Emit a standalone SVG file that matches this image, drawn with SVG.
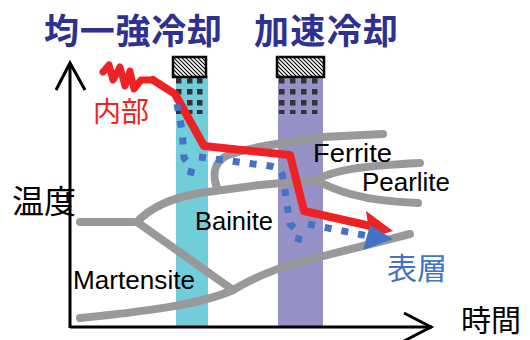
<svg xmlns="http://www.w3.org/2000/svg" width="530" height="340" viewBox="0 0 530 340">
<defs>
<pattern id="hatch" patternUnits="userSpaceOnUse" width="4" height="4">
<rect width="4" height="4" fill="#fff"/>
<path d="M-1,-1 L5,5 M3,-1 L5,1 M-1,3 L1,5" stroke="#000" stroke-width="1.1"/>
</pattern>
</defs>
<style>
.title{font-family:"Noto Sans CJK JP",sans-serif;font-weight:bold;font-size:35px;fill:#2e3192}
.jp{font-family:"Noto Sans CJK JP",sans-serif}
.lat{font-family:"Liberation Sans",Arial,sans-serif;font-size:25px;fill:#000}
.gray{fill:none;stroke:#999;stroke-width:8;stroke-linecap:round;stroke-linejoin:round}
.axis{fill:none;stroke:#000;stroke-width:3}
.dot{fill:#333}
.box{fill:url(#hatch);stroke:#000;stroke-width:2.5}
.red{fill:none;stroke:#ee2224;stroke-linejoin:round;stroke-linecap:round}
.blue{fill:none;stroke:#4472c4;stroke-width:7;stroke-dasharray:7 10}
</style>

<g id="titles">
<text class="title" x="44" y="44" textLength="178">均一強冷却</text>
<text class="title" x="254" y="44" textLength="144">加速冷却</text>
</g>

<g id="bar-uniform">
<rect x="176" y="76" width="32" height="251" fill="#70cdd9"/>
<rect class="box" x="173" y="57" width="33" height="20"/>
<g class="dot">
<rect x="176" y="78" width="5.5" height="5.5"/><rect x="187" y="78" width="5.5" height="5.5"/><rect x="197" y="78" width="5.5" height="5.5"/>
<rect x="176" y="89" width="5.5" height="5.5"/><rect x="187" y="89" width="5.5" height="5.5"/><rect x="197" y="89" width="5.5" height="5.5"/>
<rect x="176" y="100" width="5.5" height="5.5"/><rect x="187" y="100" width="5.5" height="5.5"/><rect x="197" y="100" width="5.5" height="5.5"/>
<rect x="176" y="110" width="5.5" height="4"/><rect x="187" y="110" width="5.5" height="4"/><rect x="197" y="110" width="5.5" height="4"/>
</g>
</g>

<g id="bar-accel">
<rect x="278" y="76" width="45" height="251" fill="#9692c8"/>
<rect class="box" x="277" y="57" width="47" height="20"/>
<g class="dot">
<rect x="279" y="78" width="5.5" height="5.5"/><rect x="290" y="78" width="5.5" height="5.5"/><rect x="301" y="78" width="5.5" height="5.5"/><rect x="312" y="78" width="5.5" height="5.5"/>
<rect x="279" y="89" width="5.5" height="5.5"/><rect x="290" y="89" width="5.5" height="5.5"/><rect x="301" y="89" width="5.5" height="5.5"/><rect x="312" y="89" width="5.5" height="5.5"/>
<rect x="279" y="100" width="5.5" height="5.5"/><rect x="290" y="100" width="5.5" height="5.5"/><rect x="301" y="100" width="5.5" height="5.5"/><rect x="312" y="100" width="5.5" height="5.5"/>
<rect x="279" y="110" width="5.5" height="4"/><rect x="290" y="110" width="5.5" height="4"/><rect x="301" y="110" width="5.5" height="4"/><rect x="312" y="110" width="5.5" height="4"/>
</g>
</g>

<g id="axes">
<path class="axis" d="M70,64 L70,328 M70,327 L432,327"/>
<polyline class="axis" points="56,90 70,63 85,90"/>
<polyline class="axis" points="404,313 431,327 404,341"/>
</g>

<g id="transformation-curves">
<path class="gray" d="M218,190 C212,176 213,162 228,155 C250,147 290,142 323,137 L383,134"/>
<path class="gray" d="M80,222 L137,222 C150,208 170,198 200,193 L260,185 L315,180"/>
<path class="gray" d="M315,180 C335,170 360,166 420,163"/>
<path class="gray" d="M315,180 C335,190 360,201 418,203"/>
<path class="gray" d="M137,222 L233,290"/>
<path class="gray" d="M80,318 C140,312 200,305 233,290 C250,280 270,270 300,262 L410,234"/>
</g>

<g id="connectors">
<g id="inner-path">
<path class="red" stroke-width="7" d="M103,72 L109,65 L113,80 L120,67 L125,86 L130,71 L134,89 L141,80 L153,80"/>
<path class="red" stroke-width="8" d="M153,80 L175,94 L204,146 L290,155 L304,211 L375,227"/>
<polygon points="366,211 393,231 370,238" fill="#ee2224"/>
</g>
<g id="surface-path">
<path class="blue" d="M177,104 L182,130 L184,158 L192,168 L188,185"/>
<path class="blue" d="M199,157 L270,166 Q282,168 283,178 L290,224 L300,234 L295,252"/>
<path class="blue" d="M308,224 L368,236"/>
<polygon points="370,225 393,239 363,250" fill="#4472c4"/>
</g>
</g>

<g id="labels">
<text class="jp" x="93" y="122" font-size="28" fill="#ee2224">内部</text>
<text class="jp" x="12" y="213" font-size="32" fill="#000">温度</text>
<text class="jp" x="461" y="331" font-size="30" fill="#000">時間</text>
<text class="jp" x="387" y="279" font-size="30" fill="#4472c4">表層</text>
<text class="lat" x="313" y="162" textLength="79" lengthAdjust="spacingAndGlyphs">Ferrite</text>
<text class="lat" x="362" y="191" textLength="88" lengthAdjust="spacingAndGlyphs">Pearlite</text>
<text class="lat" x="195" y="230" textLength="78" lengthAdjust="spacingAndGlyphs">Bainite</text>
<text class="lat" x="73" y="289" textLength="122" lengthAdjust="spacingAndGlyphs">Martensite</text>
</g>
</svg>
